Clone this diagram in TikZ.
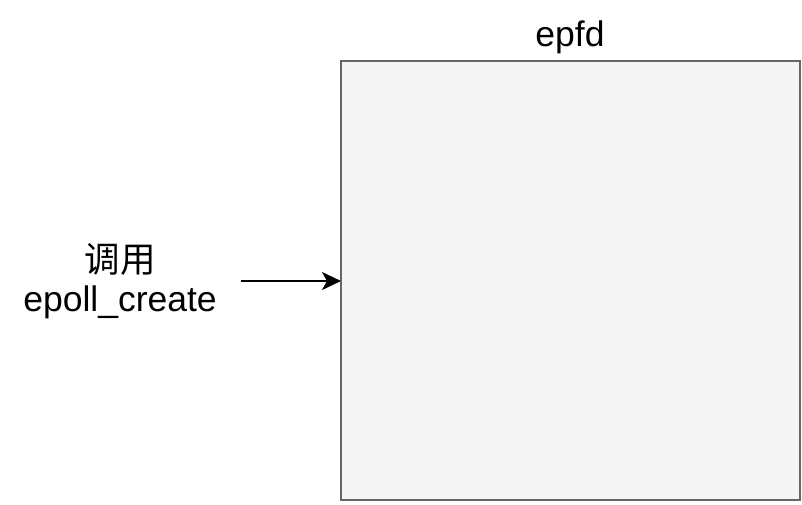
\documentclass[tikz,border=0pt]{standalone}
\usepackage{fontspec}
\setmainfont{Liberation Sans}
\newfontfamily\cjk{Noto Sans CJK SC}
\usetikzlibrary{arrows.meta}
\definecolor{boxfill}{HTML}{F5F5F5}
\definecolor{boxline}{HTML}{666666}
\tikzset{
  lbl/.style={font=\fontsize{35.5}{42}\selectfont, inner sep=0pt, anchor=base},
  membox/.style={draw=boxline, fill=boxfill, line width=2pt},
  conn/.style={line width=2pt, -{Stealth[length=19pt,width=18pt,inset=5pt]}}
}
\begin{document}
\begin{tikzpicture}[x=1pt,y=-1pt]
\useasboundingbox (0,0) rectangle (802,504);
\draw[membox] (341,61) rectangle (800,500);
\coordinate (boxleft) at (341,281);
\coordinate (start) at (241,281);
\node[lbl] (title) at (570,46.5) {epfd};
\node[lbl] (call) at (120,272) {\cjk 调用};
\node[lbl] (fn) at (120,311) {epoll\_create};
\draw[conn] (start) -- (boxleft);
\end{tikzpicture}
\end{document}
